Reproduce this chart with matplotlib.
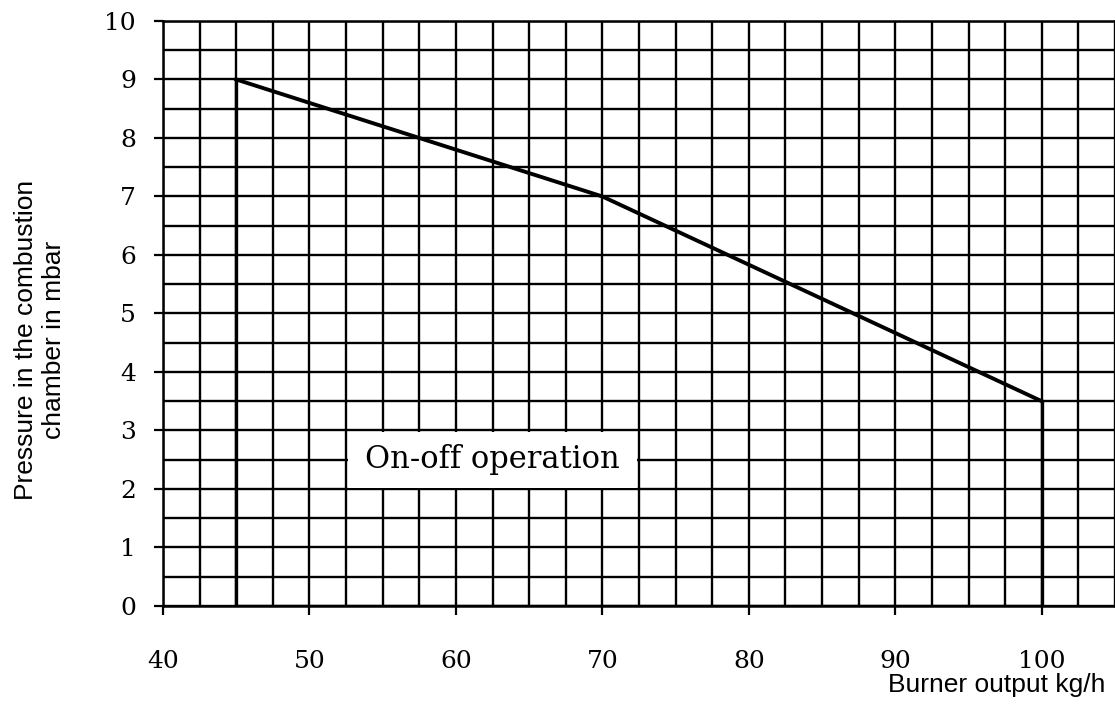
import matplotlib.pyplot as plt
from matplotlib.patches import Rectangle
import numpy as np

# operating curve of the burner
output_kgh = [45, 70, 100]
pressure_mbar = [9, 7, 3.5]

# limits of the working field
field_x = [45, 45, 100, 100]
field_y = [9, 0, 0, 3.5]

x_ticks = [40, 50, 60, 70, 80, 90, 100]
y_ticks = [0, 1, 2, 3, 4, 5, 6, 7, 8, 9, 10]

label_text = 'On-off operation'
label_x0, label_x1 = 52.5, 72.5
label_y0, label_y1 = 2.0, 3.0

fig = plt.figure(figsize=(11.15, 7.14), dpi=100)
ax = fig.add_axes([0.1462, 0.1513, 0.8538, 0.8193])

ax.set_xlim(40, 105)
ax.set_ylim(0, 10)

# paper grid
ax.set_xticks(x_ticks)
ax.set_yticks(y_ticks)
ax.set_xticks(np.arange(40, 105.1, 2.5), minor=True)
ax.set_yticks(np.arange(0, 10.01, 0.5), minor=True)
ax.grid(which='both', color='black', linewidth=1.7)
ax.set_axisbelow(True)

for sp in ax.spines.values():
    sp.set_linewidth(1.8)
    sp.set_color('black')

ax.tick_params(which='minor', length=0)
ax.tick_params(which='major', length=6.5, width=1.6, direction='out', color='black')
ax.tick_params(axis='x', pad=25)
ax.tick_params(axis='y', pad=13)
ax.set_xticklabels([str(v) for v in x_ticks], fontfamily='DejaVu Serif', fontsize=18)
ax.set_yticklabels([str(v) for v in y_ticks], fontfamily='DejaVu Serif', fontsize=18)

ax.plot(field_x, field_y, color='black', linewidth=2.4, solid_capstyle='butt', zorder=3)
ax.plot(output_kgh, pressure_mbar, color='black', linewidth=2.8, zorder=3)

# white label field on top of the grid
ax.add_patch(Rectangle((label_x0 + 0.12, label_y0 + 0.025),
                       label_x1 - label_x0 - 0.24, label_y1 - label_y0 - 0.05,
                       facecolor='white', edgecolor='none', zorder=1))
ax.text((label_x0 + label_x1) / 2, (label_y0 + label_y1) / 2, label_text,
        ha='center', va='center', fontfamily='DejaVu Serif', fontsize=22, zorder=4)

fig.text(0.036, 0.524, 'Pressure in the combustion\nchamber in mbar', rotation=90,
         ha='center', va='center', fontfamily='Liberation Sans', fontsize=19,
         linespacing=1.2)
fig.text(0.991, 0.04, 'Burner output kg/h', ha='right', va='center',
         fontfamily='Liberation Sans', fontsize=19)

fig.savefig('out.png', dpi=100)
